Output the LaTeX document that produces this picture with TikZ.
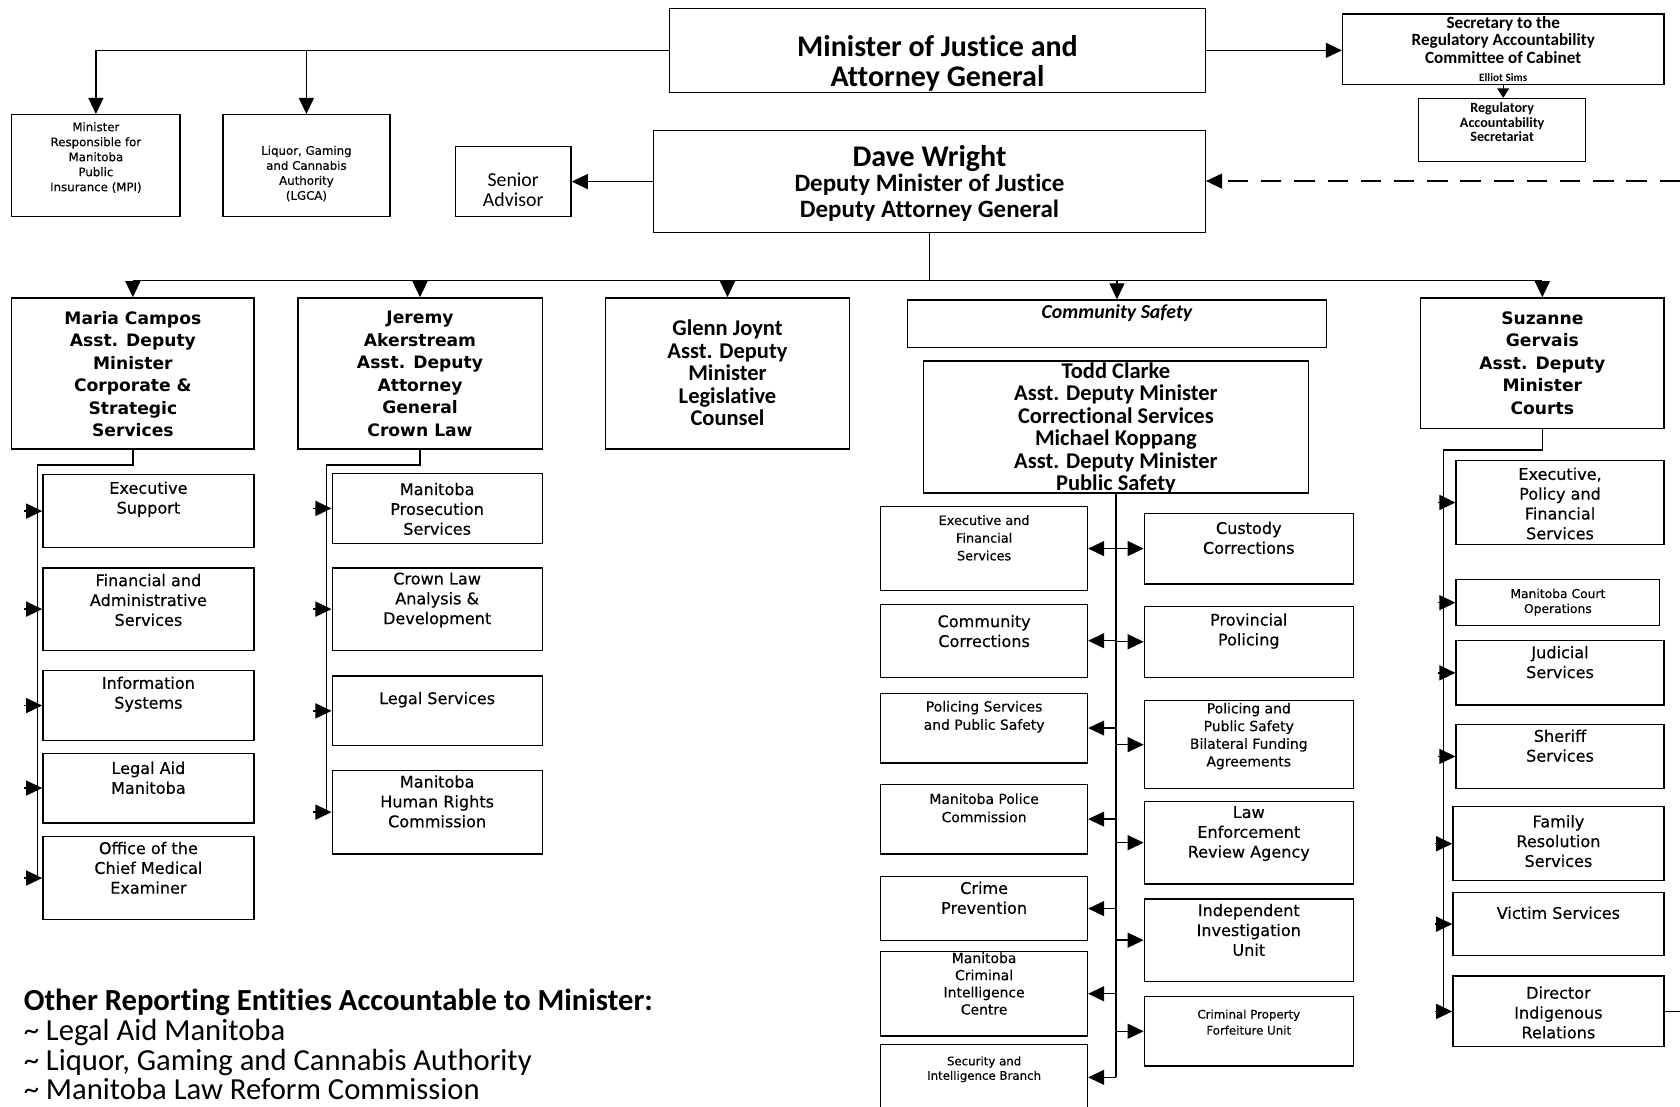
\documentclass[tikz,border=0pt]{standalone}
\usepackage{fontspec}
\setmainfont{Carlito}[Ligatures={NoCommon}]
\newfontfamily\vd{DejaVu Sans}[FakeBold=0.35]
\newfontfamily\vdh{DejaVu Sans}
\usetikzlibrary{arrows.meta,fit}
\newcommand\fs[2]{\fontsize{#1}{#2}\selectfont}
\tikzset{
 box/.style={draw, line width=1.2pt, inner sep=0pt},
 txt/.style={align=center, inner sep=0pt},
 ln/.style={line width=1.3pt},
 arr/.style={line width=1.3pt, -{Triangle[length=15pt,width=14pt]}},
 sarr/.style={line width=1.3pt, -{Triangle[length=9pt,width=11pt]}},
 hd/.style={font=\vdh\bfseries\fs{16}{21}},
 ch/.style={font=\vd\fs{15}{18.5}},
}
\newcommand\ob[8][]{%
  \node[box, fit={(#3,#4) (#5,#6)}] (#2) {};
  \node[txt,#1] (#2t) at ({(#3+#5)/2},#7) {#8};}
\begin{document}
\begin{tikzpicture}[x=1pt,y=-1pt]
\useasboundingbox (0,0) rectangle (1568,1033);
\fill[white] (0,0) rectangle (1568,1033);

% top
\ob[font=\bfseries\fs{28}{28}]{min}{625}{8}{1125}{86}{59}{Minister of Justice and\\Attorney General}
\ob[font=\bfseries\fs{16}{16.5}]{sec}{1253}{13}{1553}{79}{45.5}{Secretary to the\\Regulatory Accountability\\Committee of Cabinet\\{\fs{10.5}{15.5}Elliot Sims}}
\ob[font=\bfseries\fs{13.2}{13.5}]{ras}{1324}{92}{1480}{151}{114}{Regulatory\\Accountability\\Secretariat}
\ob[font=\vd\fs{11}{14}]{mpi}{11}{107}{168}{202}{147}{Minister\\Responsible for\\Manitoba\\Public\\Insurance (MPI)}
\ob[font=\vd\fs{11}{14}]{lgca}{208}{107}{364}{202}{162}{Liquor, Gaming\\and Cannabis\\Authority\\(LGCA)}
\ob[font=\fs{18.5}{18}]{sa}{425}{137}{533}{202}{177}{Senior\\Advisor}
\ob[font=\bfseries\fs{23.3}{24}]{dw}{610}{122}{1125}{217}{171}{{\fs{28}{26}Dave Wright}\\Deputy Minister of Justice\\Deputy Attorney General}

% second row
\ob[hd]{mc}{11}{278}{237}{419}{349}{Maria Campos\\Asst. Deputy\\Minister\\Corporate \&\\Strategic\\Services}
\ob[hd]{ja}{278}{278}{506}{419}{349}{Jeremy\\Akerstream\\Asst. Deputy\\Attorney\\General\\Crown Law}
\ob[font=\bfseries\fs{21}{21}]{gj}{565}{278}{793}{419}{348}{Glenn Joynt\\Asst. Deputy\\Minister\\Legislative\\Counsel}
\ob[font=\bfseries\itshape\fs{18.5}{20}]{cs}{847}{280}{1238}{324}{292}{Community Safety}
\ob[font=\bfseries\fs{21}{21}]{tc}{862}{337}{1221}{460}{400}{Todd Clarke\\Asst. Deputy Minister\\Correctional Services\\Michael Koppang\\Asst. Deputy Minister\\Public Safety}
\ob[hd]{sg}{1326}{278}{1553}{400}{339}{Suzanne\\Gervais\\Asst. Deputy\\Minister\\Courts}

% Corporate children
\ob[ch]{es}{40}{443}{237}{511}{466}{Executive\\Support}
\ob[ch]{fa}{40}{530}{237}{607}{560}{Financial and\\Administrative\\Services}
\ob[ch]{is}{40}{626}{237}{691}{648}{Information\\Systems}
\ob[ch]{la}{40}{703}{237}{768}{726}{Legal Aid\\Manitoba}
\ob[ch]{oc}{40}{781}{237}{858}{810}{Office of the\\Chief Medical\\Examiner}

% Crown law children
\ob[ch]{mp}{310}{442}{506}{507}{475}{Manitoba\\Prosecution\\Services}
\ob[ch]{cl}{310}{530}{506}{607}{560}{Crown Law\\Analysis \&\\Development}
\ob[ch]{ls}{310}{631}{506}{696}{653}{Legal Services}
\ob[ch]{hr}{310}{719}{506}{797}{748}{Manitoba\\Human Rights\\Commission}

% Community safety left
\ob[font=\vd\fs{12}{16.5}]{ef}{822}{473}{1015}{551}{502}{Executive and\\Financial\\Services}
\ob[ch]{cc}{822}{564}{1015}{632}{589}{Community\\Corrections}
\ob[font=\vd\fs{13}{17}]{ps}{822}{647}{1015}{712}{669}{Policing Services\\and Public Safety}
\ob[font=\vd\fs{13}{17}]{pc}{822}{732}{1015}{797}{754}{Manitoba Police\\Commission}
\ob[ch]{cp}{822}{818}{1015}{878}{838}{Crime\\Prevention}
\ob[font=\vd\fs{13}{16}]{mcic}{822}{888}{1015}{967}{918}{Manitoba\\Criminal\\Intelligence\\Centre}
\ob[font=\vd\fs{11}{13.5}]{sib}{822}{975}{1015}{1036}{998}{Security and\\Intelligence Branch}

% Community safety right
\ob[ch]{cu}{1068}{479}{1263}{545}{502}{Custody\\Corrections}
\ob[ch]{pp}{1068}{566}{1263}{632}{589}{Provincial\\Policing}
\ob[font=\vd\fs{13}{16.5}]{pb}{1068}{654}{1263}{736}{687}{Policing and\\Public Safety\\Bilateral Funding\\Agreements}
\ob[ch]{le}{1068}{748}{1263}{825}{778}{Law\\Enforcement\\Review Agency}
\ob[ch]{iu}{1068}{839}{1263}{916}{868}{Independent\\Investigation\\Unit}
\ob[font=\vd\fs{11}{15}]{cf}{1068}{930}{1263}{995}{954}{Criminal Property\\Forfeiture Unit}

% Courts children
\ob[ch]{ep}{1359}{430}{1553}{508}{470}{Executive,\\Policy and\\Financial\\Services}
\ob[font=\vd\fs{11.5}{14}]{co}{1359}{541}{1549}{584}{562}{Manitoba Court\\Operations}
\ob[ch]{js}{1359}{598}{1553}{658}{618}{Judicial\\Services}
\ob[ch]{ss}{1359}{676}{1553}{736}{696}{Sheriff\\Services}
\ob[ch]{fr}{1356}{753}{1553}{822}{785}{Family\\Resolution\\Services}
\ob[ch]{vs}{1356}{833}{1553}{892}{852}{Victim Services}
\ob[ch]{di}{1356}{911}{1553}{977}{945}{Director\\Indigenous\\Relations}

% other entities
\node[anchor=north west, align=left, inner sep=0pt, font=\fs{28.6}{27.7}] (other) at (22,923)
 {\textbf{Other Reporting Entities Accountable to Minister:}\\
  \textasciitilde{} Legal Aid Manitoba\\
  \textasciitilde{} Liquor, Gaming and Cannabis Authority\\
  \textasciitilde{} Manitoba Law Reform Commission};

% connectors top
\draw[arr] (min.west) -| (mpi.north);
\draw[arr] (min.west -| lgca.north) -- (lgca.north);
\draw[arr] (min.east) -- (min.east -| sec.west);
\draw[sarr] (sec.south) -- (sec.south |- ras.north);
\draw[arr] (dw.west) -- (dw.west -| sa.east);
\coordinate (edgeR) at (1568,169);
\draw[arr, dash pattern=on 19pt off 12pt] (edgeR) -- (edgeR -| dw.east);
\draw[ln] (di.east) -- (di.east -| edgeR);

\coordinate (busY) at (0,262);
\draw[ln] (dw.south) -- (dw.south |- busY);
\draw[ln] (mc.north |- busY) -- (sg.north |- busY);
\foreach \n in {mc,ja,gj,cs,sg} \draw[arr] (\n.north |- busY) -- (\n.north);

% corporate bus
\coordinate (mcX) at (35,434);
\draw[ln] (mc.south) |- (mcX) -- (mcX |- oc.west);
\foreach \n in {es,fa,is,la,oc} \draw[arr] ([xshift=-17pt]\n.west) -- (\n.west);

% crown law bus
\coordinate (jaX) at (305,434);
\draw[ln] (ja.south) |- (jaX) -- (jaX |- hr.west);
\foreach \n in {mp,cl,ls,hr} \draw[arr] ([xshift=-17pt]\n.west) -- (\n.west);

% community safety bus
\draw[ln] (tc.south) -- (tc.south |- sib.east);
\foreach \n in {ef,cc,ps,pc,cp,mcic,sib} \draw[arr] (\n.east -| tc.south) -- (\n.east);
\foreach \n in {cu,pp,pb,le,iu,cf} \draw[arr] (\n.west -| tc.south) -- (\n.west);

% courts bus
\coordinate (sgX) at (1347,420);
\draw[ln] (sg.south) |- (sgX) -- (sgX |- di.west);
\foreach \n in {ep,co,js,ss,fr,vs,di} \draw[arr] ([xshift=-16pt]\n.west) -- (\n.west);
\end{tikzpicture}
\end{document}
